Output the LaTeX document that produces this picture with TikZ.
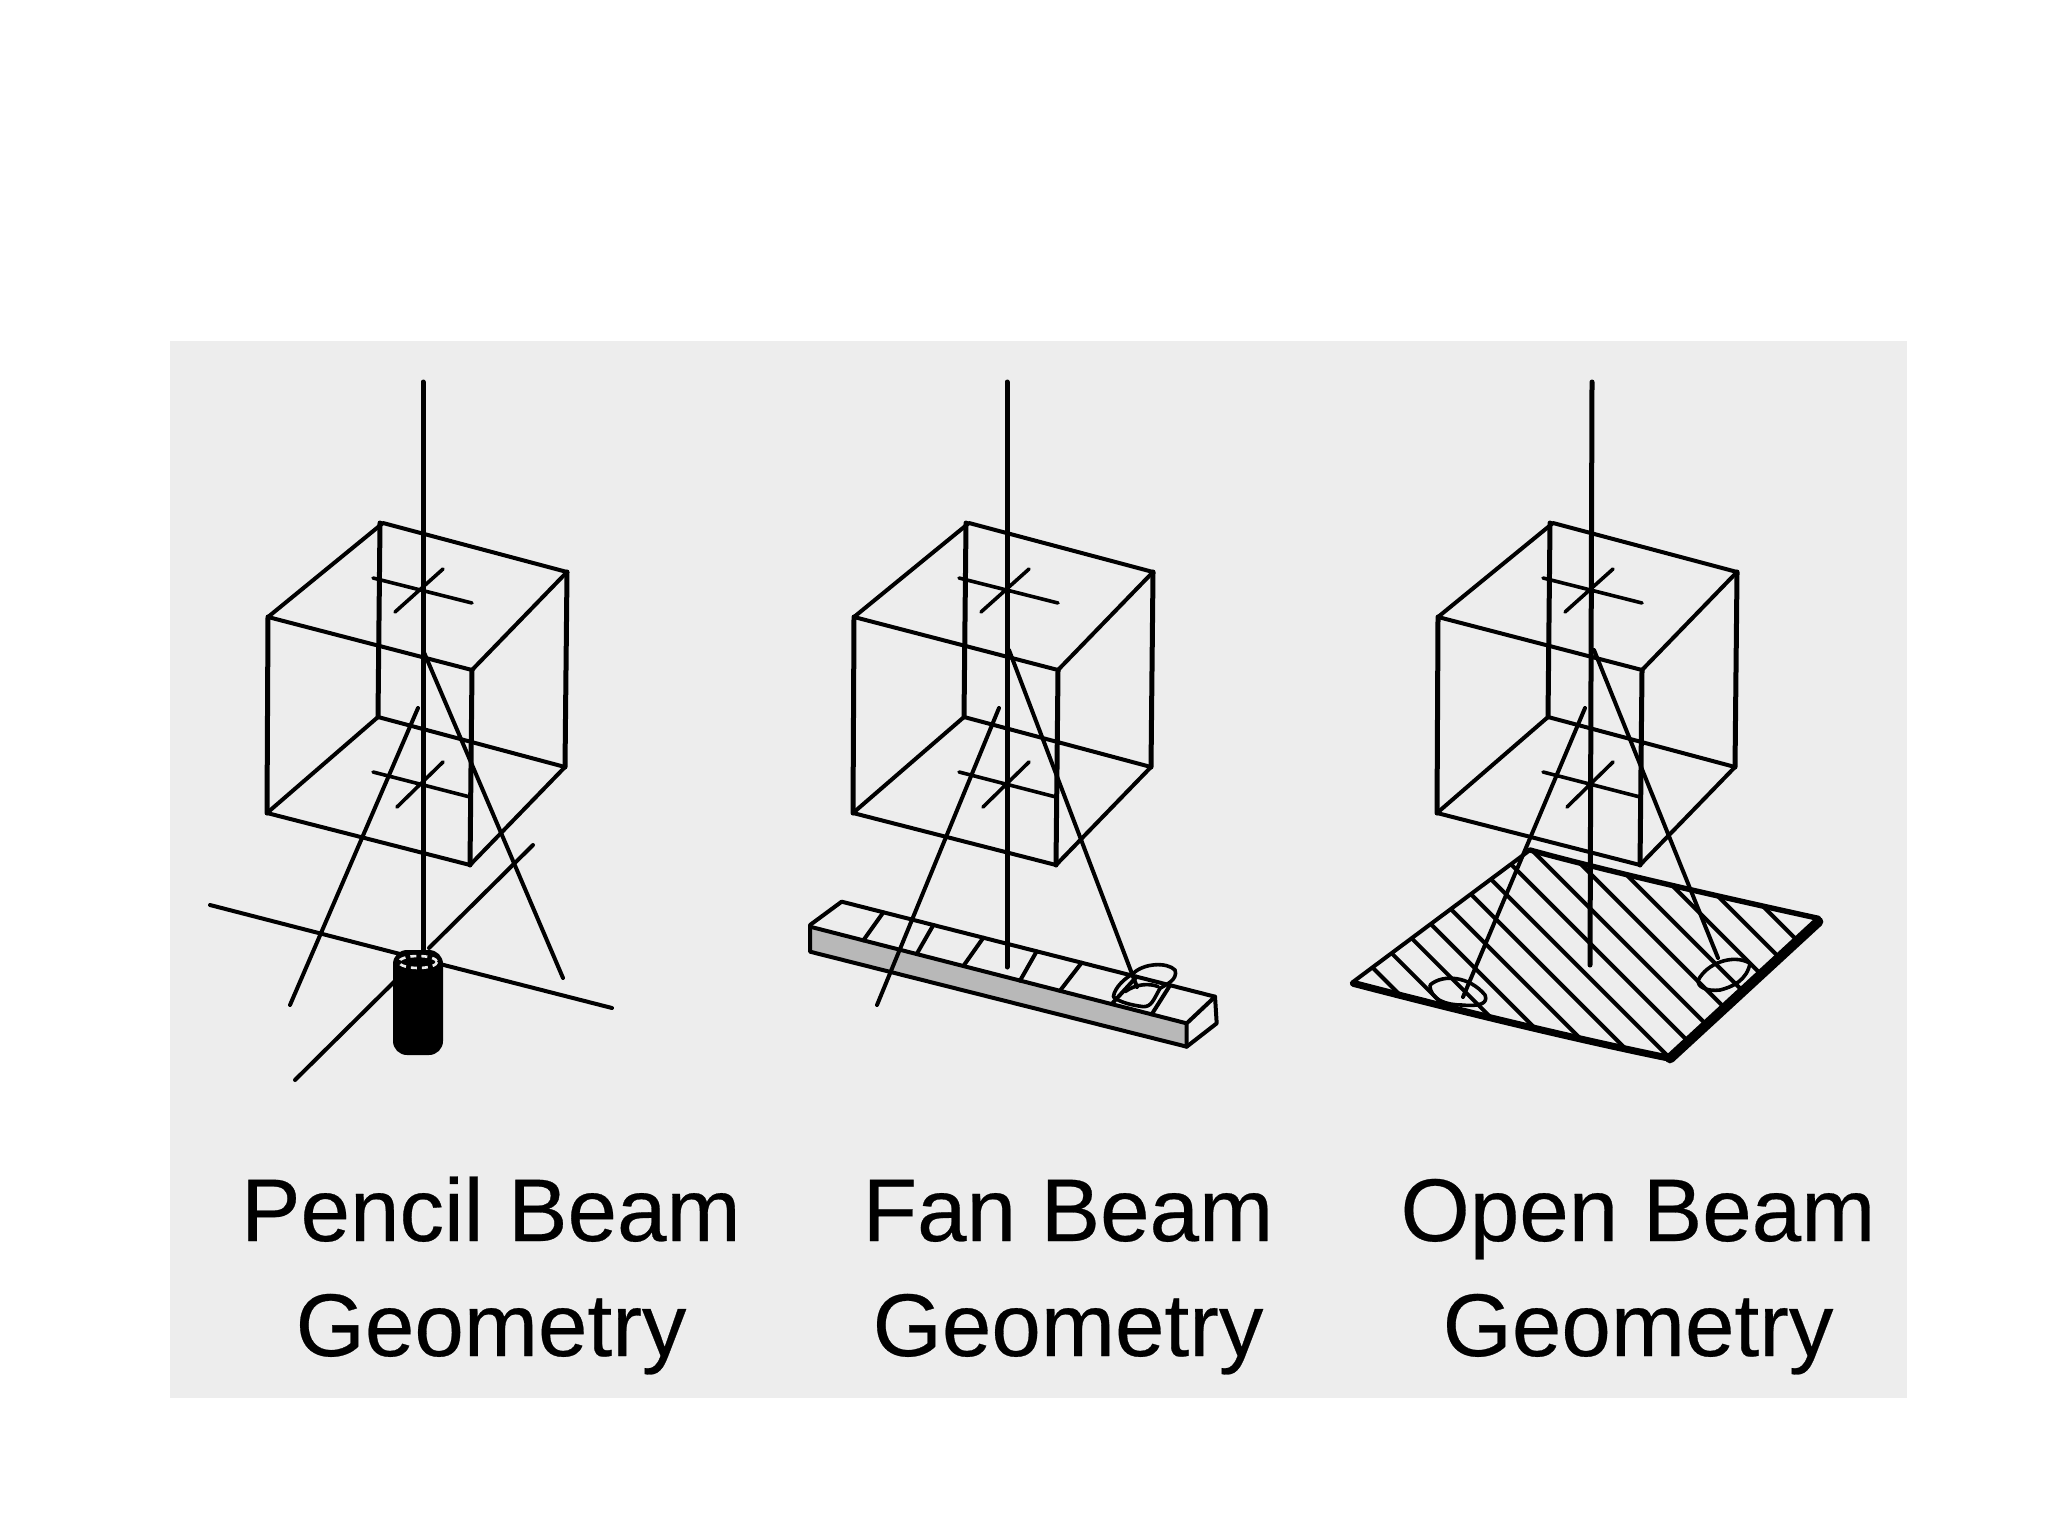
\documentclass[tikz,border=0pt]{standalone}
\usepackage{fontspec}
\setmainfont{Liberation Sans}[FakeBold=0.3]
\tikzset{
  ink/.style={draw=black,line width=2pt,line cap=round,line join=round},
  post/.style={draw=black,line width=2.5pt,line cap=round,line join=round},
  thin ink/.style={draw=black,line width=1.8pt,line cap=round,line join=round},
  heavy ink/.style={draw=black,line width=5pt,line cap=round,line join=round},
  mid ink/.style={draw=black,line width=3.5pt,line cap=round,line join=round},
  top ink/.style={draw=black,line width=2.7pt,line cap=round,line join=round},
  caption/.style={anchor=base,font=\fontsize{44.5}{50}\selectfont,text=black,inner sep=0pt}
}
\newcommand{\cubeframe}{%
  \draw[ink] (383,523)--(567,572)--(472,670)--(268,617)--cycle;
  \draw[ink] (378,717)--(565,767)--(470,865)--(267,813)--cycle;
  \draw[post] (268,617)--(267,813) (380,523)--(378,717) (472,670)--(470,865) (567,572)--(565,767);
  \draw[thin ink] (373,578)--(472,603) (395,612)--(443,569);
  \draw[thin ink] (373,772)--(470,797) (397,807)--(443,762);
}
\begin{document}
\begin{tikzpicture}[x=0.5pt,y=-0.5pt]
\useasboundingbox (0,0) rectangle (2048,1535);
\fill[white] (0,0) rectangle (2048,1535);
\fill[fill=black!7] (170,341) rectangle (1907,1398);

% ---------- Pencil beam
\cubeframe
\draw[post] (423,382)--(423,950);
\draw[ink] (423,650)--(563,978);
\draw[ink] (418,708)--(290,1005);
\draw[ink] (210,905)--(400,954);
\draw[ink] (436,963)--(612,1008);
\draw[ink] (295,1080)--(396,980);
\draw[ink] (429,948)--(533,845);
\fill[black,rounded corners=7pt] (393,950) rectangle (443,1055);
\draw[black!7,line width=1.3pt,dash pattern=on 3pt off 2.5pt] (418,962) ellipse [x radius=19,y radius=6];

% ---------- Fan beam
\begin{scope}[shift={(586,0)}]
\cubeframe
\end{scope}
\draw[post] (1007,382)--(1007,967);
\begin{scope}[shift={(790,860)},x=0.16667pt,y=-0.16667pt]
  \fill[black!28] (60,205)--(1190,490)--(1185,555)--(60,275)--cycle;
  \draw[ink] (155,125)--(1275,410)--(1280,490)--(1190,560)--(60,275)--(60,195)--cycle;
  \draw[ink] (60,200)--(1190,490)--(1275,410) (1190,490)--(1190,560);
  \foreach \a/\b/\c/\d in {280/157/220/241,430/195/380/282,580/233/520/318,740/274/690/362,875/308/810/392,1040/350/965/432,1140/376/1085/463}
    \draw[ink] (\a,\b)--(\c,\d);
  \draw[thin ink] (1030,340) .. controls (1060,310) and (1130,305) .. (1155,330)
     .. controls (1165,360) and (1125,375) .. (1110,385)
     .. controls (1090,420) and (1085,440) .. (1060,440)
     .. controls (1020,435) and (985,425) .. (970,410)
     .. controls (975,380) and (1005,355) .. (1030,340);
  \draw[thin ink] (1005,395) .. controls (1040,370) and (1080,370) .. (1105,380);
\end{scope}
\draw[ink] (1009,650)--(1137,987);
\draw[ink] (999,708)--(877,1005);

% ---------- Open beam
\begin{scope}[shift={(1170,0)}]
\cubeframe
\end{scope}
\draw[post] (1592,382)--(1590,965);
\begin{scope}[shift={(1330,830)},x=0.16667pt,y=-0.16667pt]
  \begin{scope}
    \clip (70,455)--(600,60) .. controls (800,115) and (1100,185) .. (1465,265)
       --(1020,685) .. controls (700,620) and (300,520) .. (70,460) -- cycle;
    \foreach \c in {285,185,80,-20,-125,-230,-335,-440,-545,-650,-755,-860,-965,-1070}
      \draw[ink] (0,\c)--(1600,1600+\c);
  \end{scope}
  \draw[ink] (70,455)--(600,60);
  \draw[top ink] (600,60) .. controls (800,115) and (1100,185) .. (1465,265);
  \draw[heavy ink] (1465,275)--(1020,685);
  \draw[mid ink] (70,460) .. controls (300,520) and (700,620) .. (1020,685);
  \draw[thin ink] (300,465) .. controls (340,430) and (420,440) .. (465,495)
     .. controls (475,520) and (450,530) .. (395,525)
     .. controls (350,525) and (300,510) .. (300,465);
  \draw[thin ink] (1105,450) .. controls (1130,400) and (1210,370) .. (1260,400)
     .. controls (1250,450) and (1210,470) .. (1170,480)
     .. controls (1130,485) and (1100,470) .. (1105,450);
\end{scope}
\draw[ink] (1594,650)--(1718,958);
\draw[ink] (1585,708)--(1463,997);

% ---------- Captions
\node[caption] (pencilA) at (491,1241) {Pencil Beam};
\node[caption] (pencilB) at (491,1356) {Geometry};
\node[caption] (fanA) at (1068,1241) {Fan Beam};
\node[caption] (fanB) at (1068,1356) {Geometry};
\node[caption] (openA) at (1638,1241) {Open Beam};
\node[caption] (openB) at (1638,1356) {Geometry};
\end{tikzpicture}
\end{document}
